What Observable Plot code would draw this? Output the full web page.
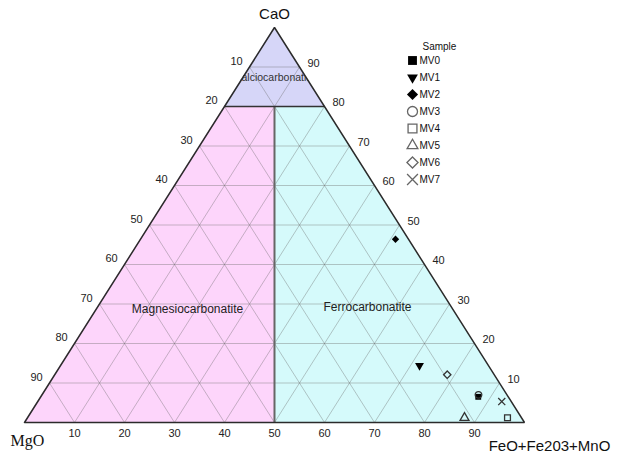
<!DOCTYPE html>
<html>
<head>
<meta charset="utf-8">
<script src="https://cdn.jsdelivr.net/npm/d3@7"></script>
<script src="https://cdn.jsdelivr.net/npm/@observablehq/plot@0.6"></script>
<style>
  body { margin: 0; background: #fff; }
  #chart { position: relative; width: 618px; height: 454px; font-family: "Liberation Sans", Arial, sans-serif; }
  #legend { position: absolute; left: 400px; top: 30px; }
</style>
</head>
<body>
<div id="chart"><div id="legend"></div></div>
<script>
// Sample compositions (wt %): CaO – MgO – FeO+Fe2O3+MnO
const samples = ["MV0", "MV1", "MV2", "MV3", "MV4", "MV5", "MV6", "MV7"];
const cao = [6.5, 14.4, 46.4, 7.0, 1.2, 1.2, 12.1, 5.3];
const mgo = [6.0, 13.8, 2.6, 5.7, 2.8, 11.4, 9.4, 1.9];
const feo = [87.5, 71.8, 51.0, 87.3, 96.0, 87.4, 78.5, 92.8];
const symbolNames = ["square", "triangleDown", "diamond2", "circle", "square", "triangle", "diamond2", "times"];
const filled = [true, true, true, false, false, false, false, false];

// Tick labels along the three edges
const leftTicks = [10, 20, 30, 40, 50, 60, 70, 80, 90];
const rightTicks = [90, 80, 70, 60, 50, 40, 30, 20, 10];
const bottomTicks = [10, 20, 30, 40, 50, 60, 70, 80, 90];
const gridSteps = [10, 20, 30, 40, 50, 60, 70, 80, 90];

// Classification boundaries
const calcioMinCaO = 80;   // CaO above this: calciocarbonatite
const feMgSplit = 50;      // FeO = MgO divides ferro- from magnesiocarbonatite

// Ternary projection: x runs from MgO (0) to FeO (100), y is CaO
const tx = (c, m, f) => (f + c / 2) * 100 / (c + m + f);
const ty = (c, m, f) => c * 100 / (c + m + f);

// Inverted triangle symbol
const triangleDown = {
  draw(context, size) {
    const y = -Math.sqrt(size / (Math.sqrt(3) * 3));
    context.moveTo(0, -y * 2);
    context.lineTo(-Math.sqrt(3) * y, y);
    context.lineTo(Math.sqrt(3) * y, y);
    context.closePath();
  }
};
const sym = (name) => name === "triangleDown" ? triangleDown : name;

const points = samples.map((s, i) => ({
  sample: s,
  x: tx(cao[i], mgo[i], feo[i]),
  y: ty(cao[i], mgo[i], feo[i]),
  symbol: sym(symbolNames[i]),
  isTri: symbolNames[i].startsWith("triangle"),
  fill: filled[i] ? "#000" : "none",
  stroke: filled[i] ? "none" : "#333"
}));

// Region fills as horizontal spans
const calcioArea = [
  {y: calcioMinCaO, x1: calcioMinCaO / 2, x2: 100 - calcioMinCaO / 2},
  {y: 100, x1: 50, x2: 50}
];
const magnesioArea = [
  {y: 0, x1: 0, x2: feMgSplit},
  {y: calcioMinCaO, x1: calcioMinCaO / 2, x2: feMgSplit}
];
const ferroArea = [
  {y: 0, x1: feMgSplit, x2: 100},
  {y: calcioMinCaO, x1: feMgSplit, x2: 100 - calcioMinCaO / 2}
];

// Grid lines: constant CaO, constant FeO, constant MgO
const grid = [];
for (const k of gridSteps) {
  grid.push({x1: tx(k, 100 - k, 0), y1: k, x2: tx(k, 0, 100 - k), y2: k});
  grid.push({x1: tx(0, 100 - k, k), y1: 0, x2: tx(100 - k, 0, k), y2: 100 - k});
  grid.push({x1: tx(0, k, 100 - k), y1: 0, x2: tx(100 - k, k, 0), y2: 100 - k});
}

const outline = [
  {x: tx(0, 100, 0), y: 0},
  {x: tx(0, 0, 100), y: 0},
  {x: tx(100, 0, 0), y: 100},
  {x: tx(0, 100, 0), y: 0}
];

const boundaries = [
  {x1: tx(calcioMinCaO, 100 - calcioMinCaO, 0), y1: calcioMinCaO, x2: tx(calcioMinCaO, 0, 100 - calcioMinCaO), y2: calcioMinCaO},
  {x1: feMgSplit, y1: 0, x2: feMgSplit, y2: calcioMinCaO}
];

const font = "Liberation Sans, Arial, sans-serif";

const chart = Plot.plot({
  width: 618,
  height: 454,
  marginLeft: 24,
  marginRight: 94,
  marginTop: 27,
  marginBottom: 32,
  x: {domain: [0, 100], axis: null},
  y: {domain: [0, 100], axis: null},
  color: {type: "identity"},
  style: {fontFamily: font, background: "#fff"},
  marks: [
    Plot.areaX(magnesioArea, {y: "y", x1: "x1", x2: "x2", fill: "#fdd5fb"}),
    Plot.areaX(ferroArea, {y: "y", x1: "x1", x2: "x2", fill: "#d5fafb"}),
    Plot.areaX(calcioArea, {y: "y", x1: "x1", x2: "x2", fill: "#d6d6f8"}),
    Plot.link(grid, {x1: "x1", y1: "y1", x2: "x2", y2: "y2", stroke: "#6a6a6a", strokeOpacity: 0.38, strokeWidth: 1}),
    Plot.link(boundaries.slice(1), {x1: "x1", y1: "y1", x2: "x2", y2: "y2", stroke: "#666", strokeWidth: 2}),
    Plot.link(boundaries.slice(0, 1), {x1: "x1", y1: "y1", x2: "x2", y2: "y2", stroke: "#333", strokeWidth: 1.5}),
    Plot.text(["Calciocarbonatite"], {x: 50, y: 87.2, text: (d) => d, fontSize: 10.5, fill: "#333"}),
    Plot.line(outline, {x: "x", y: "y", stroke: "#2b2b2b", strokeWidth: 1.5, strokeLinejoin: "miter"}),
    // edge tick labels
    Plot.text(leftTicks, {x: (d) => (100 - d) / 2, y: (d) => 100 - d, text: (d) => d, dx: -13, dy: -6, fontSize: 11, fill: "#222"}),
    Plot.text(rightTicks, {x: (d) => 100 - d / 2, y: (d) => d, text: (d) => d, dx: 14, dy: -4, fontSize: 11, fill: "#222"}),
    Plot.text(bottomTicks, {x: (d) => d, y: 0, text: (d) => d, dy: 11, fontSize: 11, fill: "#222"}),
    // region names
    Plot.text(["Magnesiocarbonatite"], {x: 32.6, y: 28.6, text: (d) => d, fontSize: 12, fill: "#222"}),
    Plot.text(["Ferrocarbonatite"], {x: 68.6, y: 29.1, text: (d) => d, fontSize: 12, fill: "#222"}),
    // vertex names
    Plot.text(["CaO"], {x: 50, y: 100, text: (d) => d, dy: -13, fontSize: 15, fill: "#111"}),
    Plot.text(["MgO"], {x: 0, y: 0, text: (d) => d, dx: 3, dy: 18, fontSize: 16, fill: "#111", fontFamily: "Liberation Serif, Times New Roman, serif"}),
    Plot.text(["FeO+Fe203+MnO"], {x: 100, y: 0, text: (d) => d, dx: 25, dy: 24, fontSize: 15, fill: "#111"}),
    // samples
    Plot.dot(points, {x: "x", y: "y", symbol: "symbol", fill: "fill", stroke: "stroke", r: 3.3, strokeWidth: 1.3})
  ]
});

// Keep the calciocarbonatite label inside the triangle
{
  const sx = chart.scale("x"), sy = chart.scale("y");
  const ns = "http://www.w3.org/2000/svg";
  const defs = document.createElementNS(ns, "defs");
  const clip = document.createElementNS(ns, "clipPath");
  clip.setAttribute("id", "tri-clip");
  const poly = document.createElementNS(ns, "polygon");
  poly.setAttribute("points", outline.slice(0, 3).map((p) => `${sx.apply(p.x)},${sy.apply(p.y)}`).join(" "));
  clip.appendChild(poly);
  defs.appendChild(clip);
  chart.insertBefore(defs, chart.firstChild);
  chart.querySelectorAll("text").forEach((t) => {
    if (t.textContent === "Calciocarbonatite") {
      const g = document.createElementNS(ns, "g");
      g.setAttribute("clip-path", "url(#tri-clip)");
      t.parentNode.insertBefore(g, t);
      g.appendChild(t);
    }
  });
  // undo any ancestor translation so the clip polygon stays in chart coordinates
  chart.querySelectorAll("g[clip-path]").forEach((g) => {
    let el = g.parentNode, dx = 0, dy = 0;
    while (el && el !== chart) {
      const s = el.getAttribute && el.getAttribute("transform");
      const m = s && /translate\(([-\d.]+)[ ,]*([-\d.]+)?\)/.exec(s);
      if (m) { dx += +m[1]; dy += +(m[2] || 0); }
      el = el.parentNode;
    }
    if (dx || dy) poly.setAttribute("transform", `translate(${-dx},${-dy})`);
  });
}

document.getElementById("chart").insertBefore(chart, document.getElementById("legend"));

// Legend
const legend = Plot.plot({
  width: 60,
  height: 165,
  marginLeft: 0,
  marginRight: 0,
  marginTop: 27.5,
  marginBottom: 14,
  y: {type: "point", domain: samples, padding: 0, axis: null},
  x: {axis: null},
  r: {type: "identity"},
  color: {type: "identity"},
  style: {fontFamily: font, background: "transparent", overflow: "visible"},
  marks: [
    Plot.text(["Sample"], {frameAnchor: "top-left", dx: 22, dy: -15.5, text: (d) => d, fontSize: 10, fill: "#111"}),
    Plot.dot(points, {y: "sample", frameAnchor: "left", dx: 12, symbol: "symbol", fill: (d) => d.fill === "none" ? "none" : "#000", stroke: (d) => d.fill === "none" ? "#666" : "none", r: (d) => d.isTri ? 4 : 5, strokeWidth: 1.3}),
    Plot.text(points, {y: "sample", frameAnchor: "left", dx: 19, text: "sample", textAnchor: "start", fontSize: 10, fill: "#111"})
  ]
});
document.getElementById("legend").appendChild(legend);
</script>
</body>
</html>
